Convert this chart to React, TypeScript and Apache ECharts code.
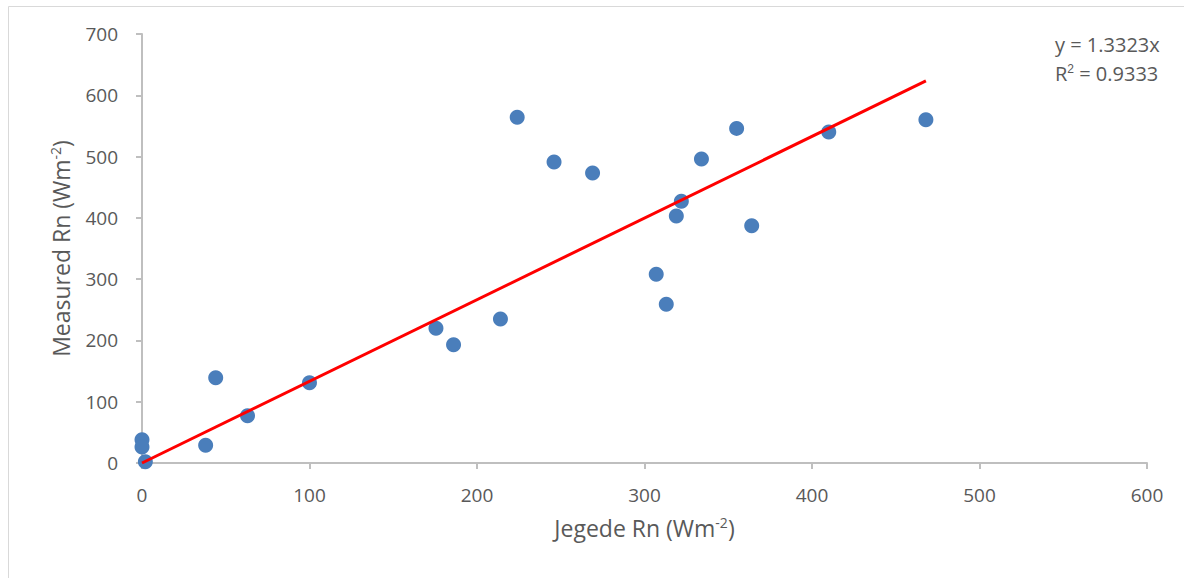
import React, { useEffect, useRef } from "react";
import * as echarts from "echarts";

const jegedeRn: number[] = [0, 0, 2, 38, 44, 63, 100, 175.5, 186, 214, 224, 246, 269, 307, 313, 319, 322, 334, 355, 364, 410, 468];
const measuredRn: number[] = [38, 26, 2, 29, 139, 77, 131, 220, 193, 235, 564, 491, 473, 308, 259, 403, 427, 496, 546, 387, 540, 560];
const trendX: number[] = [0, 468];
const trendY: number[] = [0, 623.5];
const xTicks: number[] = [0, 100, 200, 300, 400, 500, 600];
const yTicks: number[] = [0, 100, 200, 300, 400, 500, 600, 700];
const equationLines: string[] = ["y = 1.3323x", "R{sup|2} = 0.9333"];

const FONT = "'Open Sans', sans-serif";
const TXT = "#595959";

export default function App() {
  const ref = useRef<HTMLDivElement>(null);
  useEffect(() => {
    if (!ref.current) return;
    const chart = echarts.init(ref.current, undefined, { renderer: "svg" });
    const points = jegedeRn.map((x, i) => [x, measuredRn[i]]);
    const trend = trendX.map((x, i) => [x, trendY[i]]);
    chart.setOption({
      animation: false,
      backgroundColor: "#ffffff",
      textStyle: { fontFamily: FONT },
      grid: { left: 142, top: 34, right: 37, bottom: 115, containLabel: false },
      xAxis: {
        type: "value",
        min: xTicks[0],
        max: xTicks[xTicks.length - 1],
        interval: 100,
        name: "Jegede Rn (Wm{sup|-2})",
        nameLocation: "middle",
        nameGap: 52,
        nameTextStyle: {
          color: TXT,
          fontSize: 23,
          fontFamily: FONT,
          rich: { sup: { fontSize: 14, verticalAlign: "top", color: TXT, padding: [0, 0, 12, 0] } },
        },
        axisLine: { show: true, lineStyle: { color: "#bfbfbf", width: 2 } },
        axisTick: { show: true, length: 6, lineStyle: { color: "#bfbfbf", width: 2 } },
        axisLabel: { color: TXT, fontSize: 19, margin: 22, fontFamily: FONT },
        splitLine: { show: false },
      },
      yAxis: {
        type: "value",
        min: yTicks[0],
        max: yTicks[yTicks.length - 1],
        interval: 100,
        name: "Measured Rn (Wm{sup|-2})",
        nameLocation: "middle",
        nameGap: 68,
        nameTextStyle: {
          color: TXT,
          fontSize: 23,
          fontFamily: FONT,
          rich: { sup: { fontSize: 14, verticalAlign: "top", color: TXT, padding: [0, 0, 12, 0] } },
        },
        axisLine: { show: true, lineStyle: { color: "#bfbfbf", width: 2 } },
        axisTick: { show: true, length: 6, lineStyle: { color: "#bfbfbf", width: 2 } },
        axisLabel: { color: TXT, fontSize: 19, margin: 24, fontFamily: FONT },
        splitLine: { show: false },
      },
      graphic: [
        {
          type: "rect",
          shape: { x: 8.5, y: 6.5, width: 1200, height: 600 },
          style: { fill: "none", stroke: "#d9d9d9", lineWidth: 1 },
          silent: true,
        },
        {
          type: "text",
          left: 1055,
          top: 34,
          style: { text: equationLines[0], fill: TXT, fontSize: 20, fontFamily: FONT },
        },
        {
          type: "text",
          left: 1055,
          top: 63,
          style: {
            text: equationLines[1],
            fill: TXT,
            fontSize: 20,
            fontFamily: FONT,
            rich: { sup: { fontSize: 12, verticalAlign: "top", fill: TXT, padding: [0, 0, 9, 0] } },
          },
        },
      ],
      series: [
        {
          type: "line",
          data: trend,
          showSymbol: false,
          symbol: "none",
          lineStyle: { color: "#ff0000", width: 3 },
          z: 3,
        },
        {
          type: "scatter",
          data: points,
          symbol: "circle",
          symbolSize: 15,
          itemStyle: { color: "#4a7ebb", opacity: 1 },
          z: 2,
        },
      ],
    });
    return () => chart.dispose();
  }, []);
  return (
    <div
      ref={ref}
      style={{ position: "absolute", left: 0, top: 0, width: 1184, height: 578 }}
    />
  );
}
